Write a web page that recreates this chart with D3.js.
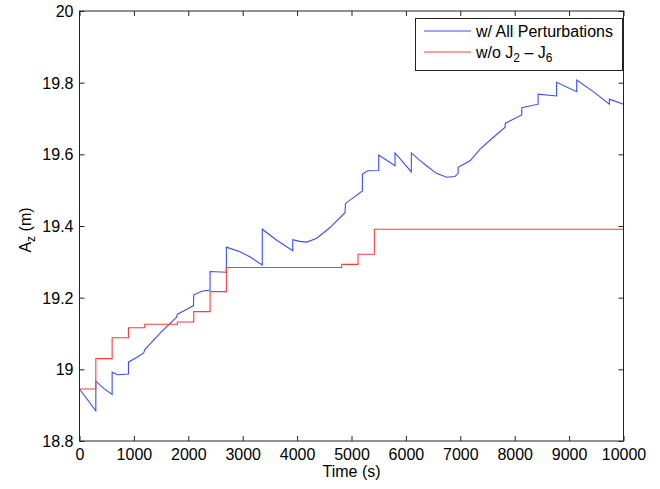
<!DOCTYPE html>
<html><head><meta charset="utf-8">
<script src="https://cdn.jsdelivr.net/npm/d3@7"></script>
<style>
body{margin:0;background:#fff;}
text{font-family:"Liberation Sans",Arial,Helvetica,sans-serif;}
</style></head>
<body><svg id="c" width="660" height="489"></svg>
<script>
const xTicks = [0,1000,2000,3000,4000,5000,6000,7000,8000,9000,10000];
const yTicks = [18.8,19,19.2,19.4,19.6,19.8,20];
const yTickLabels = ["18.8","19","19.2","19.4","19.6","19.8","20"];

// w/o J2 - J6 (step series)
const redTimes  = [0,300,600,900,1200,1800,2100,2400,2700,4820,5120,5420,10000];
const redValues = [18.945,19.030,19.088,19.116,19.126,19.132,19.161,19.217,19.284,19.293,19.321,19.391,19.391];

// w/ All Perturbations
const blueTimes = [0,300,300,450,600,600,700,900,900,1050,1180,1200,1500,1780,1800,2000,2095,2100,2250,2400,2400,2700,2700,2950,3130,3360,3360,3620,3920,3920,4050,4180,4360,4600,4880,4890,5200,5200,5300,5500,5500,5800,5800,6100,6100,6250,6380,6560,6750,6900,6960,6960,7180,7360,7550,7820,7830,8130,8130,8430,8430,8770,8770,9140,9140,9445,9740,9740,10000];
const blueValues = [18.945,18.884,18.967,18.946,18.930,18.992,18.985,18.987,19.020,19.033,19.046,19.055,19.104,19.145,19.154,19.170,19.178,19.208,19.218,19.221,19.273,19.271,19.341,19.328,19.314,19.291,19.391,19.361,19.331,19.362,19.357,19.355,19.366,19.395,19.437,19.463,19.498,19.545,19.554,19.555,19.598,19.568,19.604,19.551,19.604,19.584,19.568,19.547,19.536,19.538,19.547,19.564,19.582,19.614,19.640,19.675,19.687,19.710,19.730,19.740,19.768,19.763,19.801,19.775,19.807,19.775,19.740,19.754,19.740];

const seriesNames = ["w/ All Perturbations","w/o J"];

const L=79.5, R=623.5, T=11, B=441;
const FS=16;
const svg = d3.select("#c");
const x = d3.scaleLinear().domain([0,10000]).range([L,R]);
const y = d3.scaleLinear().domain([18.8,20]).range([B,T]);

const blue="#3a4dff", red="#ff3b3b";

const line = d3.line().x(d=>x(d[0])).y(d=>y(d[1]));
svg.append("path").datum(blueTimes.map((t,i)=>[t,blueValues[i]]))
  .attr("d",line).attr("fill","none").attr("stroke",blue).attr("stroke-width",1.1);
svg.append("path").datum(redTimes.map((t,i)=>[t,redValues[i]]))
  .attr("d",line.curve(d3.curveStepAfter)).attr("fill","none").attr("stroke",red).attr("stroke-width",1.1);

// axes
const tl=5;
const gx=svg.append("g").attr("transform",`translate(0,${B})`)
  .call(d3.axisBottom(x).tickValues(xTicks).tickFormat(d3.format("d")).tickSizeInner(-tl).tickSizeOuter(0).tickPadding(8));
const gxt=svg.append("g").attr("transform",`translate(0,${T})`)
  .call(d3.axisTop(x).tickValues(xTicks).tickFormat("").tickSizeInner(-tl).tickSizeOuter(0));
const gy=svg.append("g").attr("transform",`translate(${L},0)`)
  .call(d3.axisLeft(y).tickValues(yTicks).tickFormat((d,i)=>yTickLabels[i]).tickSizeInner(-tl).tickSizeOuter(0).tickPadding(6));
const gyr=svg.append("g").attr("transform",`translate(${R},0)`)
  .call(d3.axisRight(y).tickValues(yTicks).tickFormat("").tickSizeInner(-tl).tickSizeOuter(0));
[gx,gxt,gy,gyr].forEach(g=>{
  g.select(".domain").remove();
  g.selectAll(".tick line").attr("stroke","#222");
  g.selectAll("text").attr("font-size",FS).attr("fill","#000").attr("font-family",'"Liberation Sans",Arial,sans-serif');
});
gy.selectAll("text").attr("dy","0.35em");
svg.append("rect").attr("x",L).attr("y",T).attr("width",R-L).attr("height",B-T)
  .attr("fill","none").attr("stroke","#222").attr("stroke-width",1);

// labels
svg.append("text").attr("x",(L+R)/2).attr("y",477).attr("text-anchor","middle")
  .attr("font-size",FS).text("Time (s)");
const yl=svg.append("text").attr("transform",`translate(31,${(T+B)/2+4}) rotate(-90)`)
  .attr("text-anchor","middle").attr("font-size",FS);
yl.append("tspan").text("A");
yl.append("tspan").attr("font-size",12).attr("dy",4).text("z");
yl.append("tspan").attr("dy",-4).text(" (m)");

// legend
const lg=svg.append("g");
lg.append("rect").attr("x",415.5).attr("y",18.5).attr("width",207).attr("height",52)
  .attr("fill","#fff").attr("stroke","#222").attr("stroke-width",1);
lg.append("line").attr("x1",424).attr("x2",471).attr("y1",31).attr("y2",31).attr("stroke",blue).attr("stroke-width",1.1);
lg.append("line").attr("x1",424).attr("x2",471).attr("y1",52).attr("y2",52).attr("stroke",red).attr("stroke-width",1.1);
lg.append("text").attr("x",476).attr("y",36.5).attr("font-size",FS).text(seriesNames[0]);
const t2=lg.append("text").attr("x",476).attr("y",57.5).attr("font-size",FS);
t2.append("tspan").text(seriesNames[1]);
t2.append("tspan").attr("font-size",12).attr("dy",4).text("2");
t2.append("tspan").attr("dy",-4).text(" \u2013 J");
t2.append("tspan").attr("font-size",12).attr("dy",4).text("6");
</script></body></html>
